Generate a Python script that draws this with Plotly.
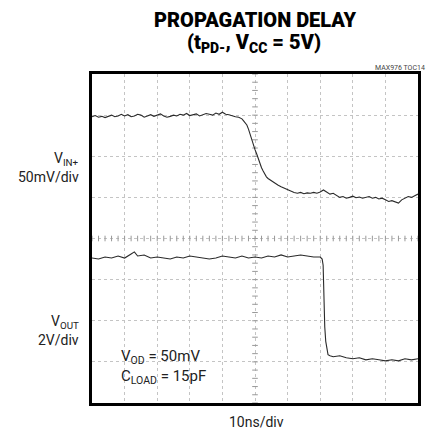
import plotly.graph_objects as go

# ---- data ----
# time axis in ns (10 ns/div, 10 divisions)
vin_t = [0, 1, 2, 3, 4, 5, 6, 7, 8, 9, 10, 11, 12, 13, 14, 15, 16, 17, 18, 19,
         20, 21, 22, 23, 24, 25, 26, 27, 28, 29, 30, 31, 32, 33, 34, 35, 36, 37, 38, 39,
         40, 41, 42, 43, 44, 45, 46, 46.5, 47, 47.5, 48, 48.5, 49, 49.5, 50, 50.5,
         51, 51.5, 52, 52.5, 53, 53.5, 54, 55, 56, 57, 58, 59, 60, 61, 62, 63, 64, 65,
         66, 67, 68, 69, 70, 71, 72, 73, 74, 75, 76, 77, 78, 79, 80, 81, 82, 83, 84, 85,
         86, 87, 88, 89, 90, 91, 92, 93, 94, 95, 96, 97, 98, 99, 100]
# VIN+ in mV
vin_mv = [48, 49.5, 47.5, 48.5, 47, 48.5, 50, 48, 49, 51, 49, 50.5, 48, 49, 51, 50, 47.5, 49, 50.5, 48.5,
          50, 51.5, 49, 47.5, 48.5, 50, 49, 51, 50, 52, 49.5, 50.5, 51.5, 49, 50.5, 52, 51, 50, 52.5, 51,
          53.5, 51, 50.5, 49, 48, 47.5, 45.5, 43, 41, 38, 33, 26, 20, 14, 8, 3,
          -3, -9, -14, -18, -22, -25, -27, -30, -32, -35, -37, -39, -41, -43, -44, -45, -44, -45.5,
          -44.5, -45, -44, -45, -43.5, -41, -44, -46, -45, -48, -50, -49, -51, -50, -48.5, -50.5, -49.5, -51, -50, -49,
          -51, -50, -52, -51, -53, -55, -54, -56, -57, -53, -51, -49, -50, -48, -46]

vout_t = [0, 2, 4, 6, 8, 10, 12, 13, 14, 16, 18, 20, 22, 24, 26, 28, 30, 32, 34, 36,
          38, 40, 42, 44, 46, 48, 50, 52, 54, 56, 58, 60, 62, 64, 66, 68, 70, 70.6, 70.9, 71.0,
          71.2, 71.4, 71.7, 72.0, 72.4, 73, 74, 76, 78, 80, 82, 84, 86, 88, 90, 92, 94, 96, 98, 100]
# VOUT in V
vout_v = [4.85, 4.80, 4.90, 4.85, 4.95, 4.85, 5.05, 5.15, 4.95, 5.00, 4.85, 4.90, 4.85, 4.80, 4.90, 4.85, 4.95, 4.90, 4.85, 4.80,
          4.85, 4.95, 4.90, 4.85, 4.95, 4.85, 4.90, 4.85, 4.95, 4.90, 5.00, 4.90, 4.95, 5.00, 4.95, 4.90, 4.90, 4.80, 4.50, 3.50,
          2.50, 1.50, 0.80, 0.40, 0.15, 0.10, 0.05, 0.10, 0.00, -0.05, 0.00, -0.10, -0.05, -0.10, -0.15, -0.10, -0.15, -0.05, -0.10, -0.05]

x_range = [0, 100]          # 10 ns/div
vin_range = [-300, 100]     # 50 mV/div
vout_range = [-2.2, 13.8]   # 2 V/div

FONT = "Roboto, Liberation Sans, sans-serif"

fig = go.Figure()

# centre-line tick marks (graticule)
cx = (x_range[0] + x_range[1]) / 2
cy = (vin_range[0] + vin_range[1]) / 2
ys = [vin_range[0] + i * 10 for i in range(int((vin_range[1] - vin_range[0]) / 10) + 1)]
xs = [x_range[0] + i * 2 for i in range(51)]
fig.add_trace(go.Scatter(x=[cx] * len(ys), y=ys, mode="markers", hoverinfo="skip",
                         marker=dict(symbol="line-ew", size=4, line=dict(width=1, color="#999")),
                         showlegend=False))
fig.add_trace(go.Scatter(x=xs, y=[cy] * len(xs), mode="markers", hoverinfo="skip",
                         marker=dict(symbol="line-ns", size=4, line=dict(width=1, color="#999")),
                         showlegend=False))

fig.add_trace(go.Scatter(x=vin_t, y=vin_mv, mode="lines", yaxis="y",
                         line=dict(color="#2a2a2a", width=1.1), showlegend=False))
fig.add_trace(go.Scatter(x=vout_t, y=vout_v, mode="lines", yaxis="y2",
                         line=dict(color="#2a2a2a", width=1.1), showlegend=False))

fig.update_layout(
    width=435, height=432,
    margin=dict(l=92, r=17, t=74, b=29),
    paper_bgcolor="white", plot_bgcolor="white",
    font=dict(family=FONT, color="#222", size=14),
    xaxis=dict(range=x_range, dtick=10, showticklabels=False, ticks="",
               showgrid=True, gridcolor="#c4c4c4", griddash="dot", gridwidth=1,
               zeroline=False, showline=True, linecolor="black", linewidth=3, mirror=True),
    yaxis=dict(range=vin_range, dtick=50, showticklabels=False, ticks="",
               showgrid=True, gridcolor="#c4c4c4", griddash="dot", gridwidth=1,
               zeroline=False, showline=True, linecolor="black", linewidth=3, mirror=True),
    yaxis2=dict(range=vout_range, overlaying="y", side="right", showticklabels=False,
                showgrid=False, zeroline=False, ticks="", showline=False),
)

ann = [
    dict(text="PROPAGATION DELAY", x=255, y=20, size=20),
    dict(text="(t<sub>PD-</sub>, V<sub>CC</sub> = 5V)", x=254, y=43, size=20),
]
for a in ann:
    fig.add_annotation(text=a["text"], xref="paper", yref="paper",
                       x=(a["x"] - 92) / 326, y=(403 - a["y"]) / 329,
                       xanchor="center", yanchor="middle", showarrow=False,
                       font=dict(size=a["size"], family=FONT, color="black", weight=900))

fig.add_annotation(text="MAX976 TOC14", xref="paper", yref="paper",
                   x=(427 - 92) / 326, y=(403 - 68) / 329, xanchor="right", yanchor="middle",
                   showarrow=False, font=dict(size=7, family=FONT, color="#444"))

side = [
    ("V<sub>IN+</sub>", 159),
    ("50mV/div", 177),
    ("V<sub>OUT</sub>", 322),
    ("2V/div", 340),
]
for t, yy in side:
    fig.add_annotation(text=t, xref="paper", yref="paper",
                       x=(81 - 92) / 326, y=(403 - yy) / 329, xanchor="right", yanchor="middle",
                       showarrow=False, font=dict(size=14, family=FONT, color="#222"))

inside = [
    ("V<sub>OD</sub> = 50mV", 357),
    ("C<sub>LOAD</sub> = 15pF", 377),
]
for t, yy in inside:
    fig.add_annotation(text=t, xref="paper", yref="paper",
                       x=(119 - 92) / 326, y=(403 - yy) / 329, xanchor="left", yanchor="middle",
                       showarrow=False, font=dict(size=15, family=FONT, color="#222"))

fig.add_annotation(text="10ns/div", xref="paper", yref="paper",
                   x=(256 - 92) / 326, y=(403 - 422) / 329, xanchor="center", yanchor="middle",
                   showarrow=False, font=dict(size=14, family=FONT, color="#222"))

fig.write_html("out.html", config={"displayModeBar": False},
               post_script="document.body.style.margin='0';document.body.style.padding='0';")
